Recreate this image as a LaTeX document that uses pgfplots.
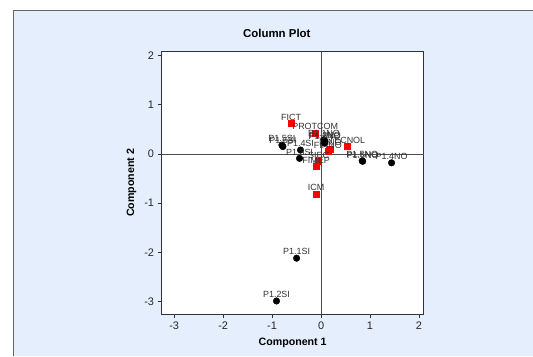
\documentclass[border=0pt]{standalone}
\usepackage{pgfplots}
\pgfplotsset{compat=1.18}
\usepackage{fontspec}
\setmainfont{Liberation Sans}
\definecolor{panel}{HTML}{E5EEFC}
\definecolor{lbl}{HTML}{333333}
\begin{document}
\begin{tikzpicture}[x=1bp,y=1bp]
\fill[white] (0,0) rectangle (533,356);
\fill[panel] (13,0) rectangle (533,346);
\draw[gray!80!black,line width=0.8bp] (13.4,0) -- (13.4,345.6) -- (533,345.6);
\node[font=\bfseries\fontsize{11.5}{13}\selectfont] at (277,323) {Column Plot};
\begin{axis}[
  at={(161.7bp,41.7bp)}, anchor=south west,
  width=262.3bp, height=262.6bp, scale only axis,
  xmin=-3.257, xmax=2.096, ymin=-3.256, ymax=2.08,
  axis background/.style={fill=white},
  axis line style={black!80, line width=0.6bp},
  xtick={-3,-2,-1,0,1,2}, ytick={-3,-2,-1,0,1,2},
  tick align=outside, xtick pos=bottom, ytick pos=left,
  major tick length=4bp,
  tick style={black!80, line width=0.6bp},
  tick label style={font=\fontsize{11}{12}\selectfont, text=black!85},
  /pgf/number format/assume math mode=true,
  xticklabel style={yshift=0bp},
  xlabel={\bfseries Component 1}, ylabel={\bfseries Component 2},
  label style={font=\bfseries\fontsize{10.7}{12}\selectfont},
  xlabel style={at={(axis description cs:0.5,-0.1105)}, anchor=center},
  ylabel style={at={(axis description cs:-0.1144,0.5)}, anchor=center},
  clip=false,
  nodes near coords={\pgfplotspointmeta},
  point meta=explicit symbolic,
  every node near coord/.style={font=\fontsize{9}{10}\selectfont, text=lbl, anchor=south, inner sep=0.5bp, yshift=2.5bp},
]
\draw[black!70, line width=0.6bp] (axis cs:0,-3.256) -- (axis cs:0,2.08);
\draw[black!70, line width=0.6bp] (axis cs:-3.257,0) -- (axis cs:2.096,0);
\addplot[only marks, mark=square*, mark size=3bp, mark options={fill=red, draw=red}] table[meta=label] {
x y label
-0.61 0.62 FICT
-0.12 0.43 PROTCOM
0.53 0.15 TECNOL
0.19 0.10 INNO
0.14 0.05 FINNO
-0.05 -0.15 SIEC
-0.10 -0.25 FIMEP
-0.10 -0.81 ICM
};
\addplot[only marks, mark=*, mark size=3.3bp, mark options={fill=black, draw=black}] table[meta=label] {
x y label
-0.50 -2.12 P1.1SI
-0.91 -2.99 P1.2SI
-0.80 0.18 P1.5SI
-0.78 0.15 P1.6SI
-0.42 0.08 P1.4SI
-0.44 -0.09 P1.3SI
0.06 0.29 P1.1NO
0.07 0.22 P1.2NO
0.08 0.25 P1.3NO
0.84 -0.14 P1.5NO
0.85 -0.15 P1.6NO
1.44 -0.18 P1.4NO
};
\end{axis}
\end{tikzpicture}
\end{document}
